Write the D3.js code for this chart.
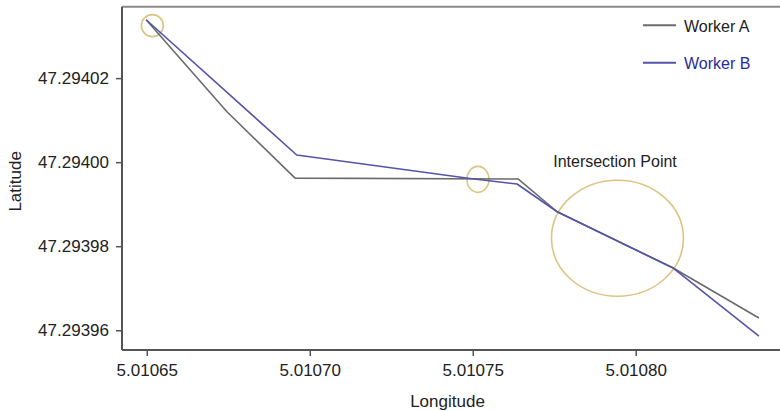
<!DOCTYPE html>
<html>
<head>
<meta charset="utf-8">
<script src="https://cdn.jsdelivr.net/npm/d3@7"></script>
<style>
  body { margin: 0; background: #fff; }
  svg { display: block; font-family: "Liberation Sans", Arial, sans-serif; }
</style>
</head>
<body>
<div id="chart"></div>
<script>
// track of each worker, [longitude, latitude]
const workerA = [
  [5.0106498, 47.2940339],
  [5.0106746, 47.2940120],
  [5.0106955, 47.2939962],
  [5.0107639, 47.2939960],
  [5.0107759, 47.2939882],
  [5.0108115, 47.2939748],
  [5.0108378, 47.2939629]
];
const workerB = [
  [5.0106498, 47.2940339],
  [5.0106960, 47.2940017],
  [5.0107492, 47.2939961],
  [5.0107636, 47.2939948],
  [5.0107759, 47.2939882],
  [5.0108115, 47.2939748],
  [5.0108378, 47.2939586]
];
// highlighted spots (centre lon/lat)
const marks = [
  [5.0106517, 47.2940325],
  [5.0107516, 47.2939959],
  [5.0107944, 47.2939819]
];
const markSize = [[11, 11], [11, 13], [66, 58]];

const lonTicks = [5.01065, 5.01070, 5.01075, 5.01080];
const latTicks = [47.29396, 47.29398, 47.29400, 47.29402];
const seriesNames = ["Worker A", "Worker B"];
const seriesColors = ["#6b6b6b", "#5454aa"];
const textColors = ["#222", "#2a2a9c"];

const W = 780, H = 411;
const mLeft = 122, mRight = 785, mTop = 6.7, mBottom = 350;

const svg = d3.select("#chart").append("svg")
  .attr("width", W)
  .attr("height", H);

const x = d3.scaleLinear()
  .domain([5.0106424, 5.0108458])
  .range([mLeft, mRight]);

const y = d3.scaleLinear()
  .domain([47.2939553, 47.2940370])
  .range([mBottom, mTop]);

// top frame line
svg.append("line")
  .attr("x1", mLeft).attr("x2", W)
  .attr("y1", mTop).attr("y2", mTop)
  .attr("stroke", "#8a8a8a")
  .attr("stroke-width", 2);

const xAxis = svg.append("g")
  .attr("transform", `translate(0,${mBottom})`)
  .call(d3.axisBottom(x).tickValues(lonTicks).tickFormat(d3.format(".5f")).tickSizeOuter(0).tickSize(6).tickPadding(8));

const yAxis = svg.append("g")
  .attr("transform", `translate(${mLeft},0)`)
  .call(d3.axisLeft(y).tickValues(latTicks).tickFormat(d3.format(".5f")).tickSizeOuter(0).tickSize(6).tickPadding(7));

[xAxis, yAxis].forEach(g => {
  g.select(".domain").attr("stroke", "#555").attr("stroke-width", 2);
  g.selectAll(".tick line").attr("stroke", "#555").attr("stroke-width", 1.5);
  g.selectAll(".tick text")
    .attr("fill", "#222")
    .style("font-size", "17px")
    .style("font-family", "'Liberation Sans', Arial, sans-serif");
});
// x axis domain should reach the right edge
xAxis.select(".domain").attr("d", `M${mLeft},0H${W}`);
yAxis.select(".domain").attr("d", `M0,${mTop}V${mBottom}`);

svg.append("text")
  .attr("x", (mLeft + mRight) / 2 - 6)
  .attr("y", 407)
  .attr("text-anchor", "middle")
  .attr("fill", "#222")
  .style("font-size", "17px")
  .text("Longitude");

svg.append("text")
  .attr("transform", `translate(20.5,${(mTop + mBottom) / 2 + 3}) rotate(-90)`)
  .attr("text-anchor", "middle")
  .attr("fill", "#222")
  .style("font-size", "17px")
  .text("Latitude");

// circles round the interesting spots
svg.selectAll(".mark")
  .data(marks)
  .enter().append("ellipse")
  .attr("class", "mark")
  .attr("cx", d => x(d[0]))
  .attr("cy", d => y(d[1]))
  .attr("rx", (d, i) => markSize[i][0])
  .attr("ry", (d, i) => markSize[i][1])
  .attr("fill", "none")
  .attr("stroke", "#dcc483")
  .attr("stroke-width", 1.6);

const line = d3.line()
  .x(d => x(d[0]))
  .y(d => y(d[1]));

svg.selectAll(".track")
  .data([workerA, workerB])
  .enter().append("path")
  .attr("class", "track")
  .attr("d", line)
  .attr("fill", "none")
  .attr("stroke", (d, i) => seriesColors[i])
  .attr("stroke-width", 1.6)
  .attr("stroke-linejoin", "round");

svg.append("text")
  .attr("x", 615)
  .attr("y", 167)
  .attr("text-anchor", "middle")
  .attr("fill", "#222")
  .style("font-size", "16px")
  .text("Intersection Point");

// legend
const legend = svg.selectAll(".legend")
  .data(seriesNames)
  .enter().append("g")
  .attr("class", "legend")
  .attr("transform", (d, i) => `translate(643,${25.3 + i * 37.4})`);

legend.append("line")
  .attr("x1", 0).attr("x2", 33)
  .attr("stroke", (d, i) => seriesColors[i])
  .attr("stroke-width", 2);

legend.append("text")
  .attr("x", 41)
  .attr("y", 6.3)
  .attr("fill", (d, i) => textColors[i])
  .style("font-size", "16px")
  .text(d => d);
</script>
</body>
</html>
